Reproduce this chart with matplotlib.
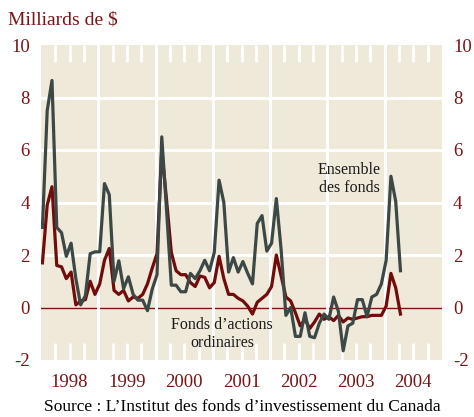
import numpy as np
import matplotlib.pyplot as plt
import matplotlib.transforms as mtransforms

plt.rcParams['font.family'] = ['Liberation Serif', 'DejaVu Serif']
plt.rcParams['axes.unicode_minus'] = False

# monthly net sales, Jan 1998 onward (billions of $)
ensemble = [3.05, 7.5, 8.65, 3.05, 2.85, 1.95, 2.45, 1.1, 0.1, 0.45,
            2.05, 2.12, 2.12, 4.72, 4.3, 1.0, 1.78, 0.72, 1.17, 0.5,
            0.28, 0.28, -0.12, 0.7, 1.25, 6.5, 3.7, 0.85, 0.85, 0.6,
            0.6, 1.3, 1.1, 1.4, 1.8, 1.4, 2.1, 4.85, 4.0, 1.35,
            1.9, 1.35, 1.75, 1.3, 0.9, 3.2, 3.5, 2.15, 2.45, 4.15,
            2.2, -0.3, 0.0, -1.1, -1.1, -0.2, -1.1, -1.15, -0.6, -0.25,
            -0.45, 0.4, -0.15, -1.65, -0.7, -0.6, 0.3, 0.3, -0.35, 0.4,
            0.5, 0.9, 1.8, 5.0, 4.05, 1.4]
actions = [1.7, 3.9, 4.6, 1.6, 1.55, 1.1, 1.35, 0.1, 0.25, 0.3,
           1.0, 0.5, 0.9, 1.8, 2.25, 0.65, 0.5, 0.65, 0.25, 0.4,
           0.35, 0.5, 0.9, 1.5, 2.05, 6.0, 4.1, 2.1, 1.4, 1.25,
           1.25, 0.95, 0.8, 1.2, 1.15, 0.75, 0.95, 1.95, 1.1, 0.5,
           0.5, 0.35, 0.25, 0.05, -0.25, 0.2, 0.35, 0.5, 0.8, 2.0,
           1.2, 0.4, 0.25, -0.2, -0.7, -0.45, -0.8, -0.55, -0.25, -0.45,
           -0.35, -0.5, -0.3, -0.55, -0.4, -0.45, -0.4, -0.35, -0.35, -0.3,
           -0.3, -0.3, 0.05, 1.3, 0.75, -0.25]
years = [1998, 1999, 2000, 2001, 2002, 2003, 2004]
yticks = [-2, 0, 2, 4, 6, 8, 10]

dark_red = '#7b1416'
line_red = '#720c0c'
slate = '#3c4845'
beige = '#eee9d8'

x = years[0] + (np.arange(len(ensemble)) + 0.3) / 12

fig = plt.figure(figsize=(4.74, 4.17), dpi=100)
ax = fig.add_axes([41/474, 1 - 360/417, 401/474, 315/417])
ax.set_facecolor(beige)
for s in ax.spines.values():
    s.set_visible(False)
ax.set_xlim(years[0], years[-1] + 1)
ax.set_ylim(yticks[0], yticks[-1])

# year gridlines + quarterly ticks
ax.set_xticks(years[1:])
ax.set_xticks([y + q for y in years for q in (0.25, 0.5, 0.75)], minor=True)
ax.tick_params(axis='x', which='major', length=0, labelbottom=False)
ax.tick_params(axis='x', which='minor', direction='in', length=12, width=2,
               color='white', top=True, bottom=True)
ax.grid(True, axis='x', which='major', color='white', lw=2.2)
for v in yticks[1:-1]:
    if v != 0:
        ax.axhline(v, color='white', lw=2.2, zorder=0.5)

ax.set_yticks(yticks)
ax.tick_params(axis='y', length=0, labelleft=True, labelright=True,
               labelcolor=dark_red, labelsize=13.5, pad=8)

ax.axhline(0, color=dark_red, lw=1, zorder=1)
ax.plot(x, actions, color=line_red, lw=2.3, zorder=2)
ax.plot(x, ensemble, color=slate, lw=2.3, zorder=3)

trans = mtransforms.blended_transform_factory(ax.transData, ax.transAxes)
for y in years:
    ax.text(y + 0.5, -0.073, str(y), transform=trans, ha='center', va='center',
            color=dark_red, fontsize=13.5)

ax.text(2003.38, 4.88, 'Ensemble\ndes fonds', ha='center', va='center',
        fontsize=11.5, color='#1a1a1a', linespacing=1.15)
ax.text(2001.16, -1.0, 'Fonds d\u2019actions\nordinaires', ha='center', va='center',
        fontsize=11.5, color='#1a1a1a', linespacing=1.15)

fig.text(8/474, 1 - 25/417, 'Milliards de $', color=dark_red, fontsize=14,
         va='baseline')
fig.text(242/474, 1 - 407/417,
         'Source : L\u2019Institut des fonds d\u2019investissement du Canada',
         ha='center', va='center', fontsize=12.5, color='black')

fig.savefig('out.png', dpi=100)
